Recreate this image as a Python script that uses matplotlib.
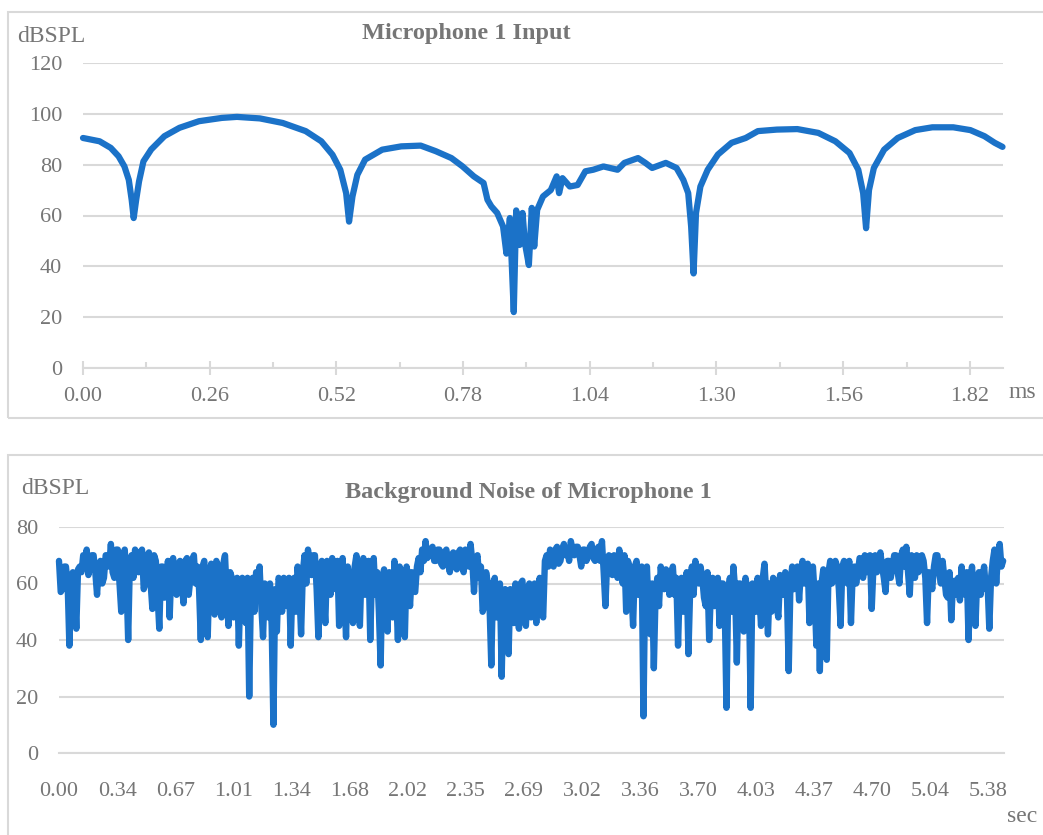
import numpy as np
import matplotlib
matplotlib.use("Agg")
import matplotlib.pyplot as plt
from matplotlib.patches import Rectangle

# =========================
# 1. DATA
# =========================
# Microphone 1 input, time in ms, level in dBSPL
mic_ms = [0.000, 0.034, 0.057, 0.073, 0.085, 0.094, 0.100, 0.104, 0.109, 0.115,
          0.124, 0.140, 0.167, 0.198, 0.238, 0.285, 0.316, 0.363, 0.410, 0.457,
          0.489, 0.512, 0.528, 0.540, 0.546, 0.553, 0.563, 0.579, 0.614, 0.653,
          0.693, 0.724, 0.756, 0.779, 0.802, 0.822, 0.830, 0.838, 0.850, 0.862,
          0.869, 0.876, 0.884, 0.889, 0.896, 0.902, 0.907, 0.915, 0.921, 0.926,
          0.932, 0.944, 0.960, 0.972, 0.977, 0.984, 0.999, 1.015, 1.031, 1.047,
          1.068, 1.097, 1.111, 1.139, 1.154, 1.168, 1.196, 1.218, 1.232, 1.242,
          1.248, 1.253, 1.258, 1.267, 1.282, 1.303, 1.331, 1.360, 1.385, 1.424,
          1.466, 1.509, 1.544, 1.573, 1.591, 1.601, 1.607, 1.613, 1.623, 1.644,
          1.672, 1.708, 1.743, 1.786, 1.821, 1.850, 1.871, 1.887]
mic_db = [90.5, 89.2, 86.6, 83.3, 79.3, 74.0, 66.0, 59.0, 66.0, 73.4,
          81.3, 86.0, 91.2, 94.5, 97.1, 98.4, 98.8, 98.2, 96.4, 93.2,
          89.2, 83.9, 78.0, 68.8, 57.6, 67.5, 76.0, 82.0, 85.9, 87.2,
          87.5, 85.3, 82.6, 79.3, 75.4, 72.8, 66.2, 63.6, 61.0, 55.7,
          45.0, 59.0, 22.0, 62.0, 48.4, 61.0, 49.0, 40.5, 63.0, 47.8,
          62.2, 67.5, 70.0, 75.4, 68.8, 74.7, 71.4, 72.0, 77.4, 78.0,
          79.3, 78.0, 80.7, 82.6, 80.7, 78.7, 80.7, 78.7, 74.0, 68.8,
          55.7, 37.2, 61.0, 71.4, 78.0, 84.0, 88.6, 90.5, 93.2, 93.8,
          94.0, 92.5, 89.2, 84.6, 78.0, 68.8, 55.0, 70.0, 78.7, 85.9,
          90.5, 93.6, 94.7, 94.7, 93.6, 91.2, 88.6, 87.0]
mic_ticks = ["0.00", "0.26", "0.52", "0.78", "1.04", "1.30", "1.56", "1.82"]

# Background noise, one sample every 0.01 s, level in dBSPL
noise_dt = 0.01
noise_db = [
    68, 57, 58, 66, 66, 60, 38, 62, 64, 58, 44, 65, 66, 64, 70, 66, 72, 63, 66, 70,   # 0.00
    70, 64, 56, 66, 68, 60, 62, 70, 70, 66, 74, 64, 62, 72, 72, 60, 50, 70, 72, 62,   # 0.20
    40, 68, 70, 62, 72, 66, 64, 71, 72, 58, 60, 70, 71, 60, 51, 70, 68, 56, 44, 66,   # 0.40
    66, 55, 58, 68, 48, 66, 69, 58, 56, 67, 68, 60, 53, 68, 69, 56, 62, 68, 70, 60,   # 0.60
    66, 58, 40, 66, 68, 52, 41, 64, 67, 56, 49, 68, 66, 58, 48, 67, 70, 56, 45, 64,   # 0.80
    62, 48, 55, 62, 38, 60, 62, 50, 46, 62, 20, 58, 62, 50, 64, 56, 66, 52, 41, 60,   # 1.00
    58, 48, 60, 45, 10, 58, 43, 62, 60, 50, 62, 56, 52, 62, 38, 60, 62, 50, 66, 58,   # 1.20
    42, 64, 70, 60, 72, 66, 63, 70, 70, 58, 41, 66, 68, 56, 46, 68, 64, 56, 69, 60,   # 1.40
    58, 68, 45, 62, 69, 56, 41, 66, 62, 58, 46, 66, 70, 58, 45, 66, 69, 56, 58, 68,   # 1.60
    40, 64, 69, 56, 64, 50, 31, 62, 65, 56, 43, 64, 62, 48, 68, 56, 40, 66, 62, 50,   # 1.80
    41, 66, 62, 52, 64, 58, 57, 66, 69, 64, 72, 68, 75, 69, 70, 72, 73, 68, 68, 72,   # 2.00
    72, 67, 66, 71, 72, 68, 64, 70, 71, 66, 65, 71, 72, 66, 64, 72, 70, 66, 74, 68,   # 2.20
    57, 68, 70, 62, 66, 50, 52, 64, 60, 52, 31, 60, 62, 48, 55, 60, 27, 56, 58, 48,   # 2.40
    35, 58, 56, 46, 60, 50, 44, 60, 61, 50, 45, 58, 60, 48, 52, 60, 46, 58, 62, 50,   # 2.60
    48, 68, 70, 66, 72, 70, 66, 72, 73, 67, 68, 72, 74, 70, 72, 68, 75, 72, 70, 73,   # 2.80
    73, 70, 66, 72, 72, 68, 70, 73, 74, 69, 68, 72, 73, 68, 75, 64, 52, 68, 70, 64,   # 3.00
    63, 70, 68, 62, 72, 64, 60, 70, 50, 68, 66, 58, 45, 66, 68, 56, 62, 66, 13, 62,   # 3.20
    66, 50, 42, 60, 30, 56, 62, 52, 66, 60, 58, 65, 64, 56, 62, 66, 56, 62, 38, 60,   # 3.40
    62, 50, 55, 64, 35, 58, 66, 56, 68, 62, 60, 66, 62, 55, 52, 64, 40, 58, 62, 52,   # 3.60
    58, 62, 45, 60, 60, 52, 16, 58, 62, 50, 66, 58, 32, 60, 60, 50, 43, 62, 58, 56,   # 3.80
    16, 60, 58, 50, 62, 56, 45, 62, 67, 56, 42, 60, 50, 62, 61, 52, 48, 63, 62, 56,   # 4.00
    64, 56, 29, 60, 66, 58, 62, 66, 54, 64, 68, 60, 62, 67, 46, 62, 66, 56, 38, 60,   # 4.20
    29, 60, 65, 56, 33, 64, 68, 60, 62, 68, 66, 58, 45, 66, 68, 62, 60, 68, 46, 64,   # 4.40
    66, 60, 64, 69, 68, 62, 70, 64, 66, 70, 51, 66, 70, 64, 68, 71, 66, 62, 57, 68,   # 4.60
    68, 62, 66, 70, 70, 64, 60, 70, 72, 66, 73, 64, 56, 70, 68, 62, 70, 64, 66, 70,   # 4.80
    68, 62, 46, 64, 62, 58, 66, 70, 70, 64, 60, 68, 62, 56, 55, 64, 47, 60, 61, 56,   # 5.00
    62, 54, 66, 58, 56, 64, 40, 60, 66, 56, 45, 62, 64, 56, 62, 66, 58, 60, 44, 62,   # 5.20
    68, 72, 60, 70, 74, 66, 68,                                                       # 5.40
]
noise_ticks = ["0.00", "0.34", "0.67", "1.01", "1.34", "1.68", "2.02", "2.35", "2.69",
               "3.02", "3.36", "3.70", "4.03", "4.37", "4.70", "5.04", "5.38"]

# =========================
# 2. STYLE
# =========================
W, H = 1043, 835
LINE = "#1B72C8"
GRID = "#D9D9D9"
TXT = "#767676"
plt.rcParams["font.family"] = ["Liberation Serif", "DejaVu Serif"]

fig = plt.figure(figsize=(W / 100, H / 100), dpi=100)


def fx(px):
    return px / W


def fy(py):
    return 1 - py / H


# panel borders (Excel chart areas)
fig.patches.append(Rectangle((fx(7.5), fy(418)), 1.0, fy(11.5) - fy(418), transform=fig.transFigure,
                             fill=False, edgecolor=GRID, linewidth=1.5))
fig.patches.append(Rectangle((fx(7.5), -0.05), 1.0, fy(455) + 0.05, transform=fig.transFigure,
                             fill=False, edgecolor=GRID, linewidth=1.5))


def style_axes(ax):
    ax.grid(axis="y", color=GRID, linewidth=1.5)
    ax.set_axisbelow(True)
    for s in ["top", "right", "left"]:
        ax.spines[s].set_visible(False)
    ax.spines["bottom"].set_color(GRID)
    ax.spines["bottom"].set_linewidth(1.5)
    ax.tick_params(axis="y", length=0, pad=15, labelsize=16, labelcolor=TXT)


# =========================
# 3. TOP: MICROPHONE 1 INPUT
# =========================
ax1 = fig.add_axes([fx(83), fy(368), fx(1003) - fx(83), fy(63) - fy(368)])
style_axes(ax1)
ax1.plot(mic_ms, mic_db, color=LINE, linewidth=4.5, solid_joinstyle="round",
         solid_capstyle="round", clip_on=False)
ax1.set_ylim(0, 120)
ax1.set_yticks([0, 20, 40, 60, 80, 100, 120])
ax1.set_xlim(0, 1.888)
ax1.set_xticks([0.26 * i for i in range(len(mic_ticks))])
ax1.set_xticklabels(mic_ticks)
ax1.set_xticks([0.13 + 0.26 * i for i in range(7)], minor=True)
ax1.tick_params(axis="x", which="major", direction="inout", length=9.5, width=1.5,
                color=GRID, pad=9, labelsize=16, labelcolor=TXT)
ax1.tick_params(axis="x", which="minor", direction="in", length=4.5, width=1.5, color=GRID)
fig.text(fx(17), fy(37), "dBSPL", fontsize=17, color=TXT, ha="left", va="center")
fig.text(fx(466), fy(33), "Microphone 1 Input", fontsize=17.5, fontweight="bold",
         color=TXT, ha="center", va="center")
fig.text(fx(1022), fy(392), "ms", fontsize=17, color=TXT, ha="center", va="center")

# =========================
# 4. BOTTOM: BACKGROUND NOISE
# =========================
noise_t = np.arange(len(noise_db)) * noise_dt
ax2 = fig.add_axes([fx(59), fy(753), fx(1004) - fx(59), fy(527) - fy(753)])
style_axes(ax2)
ax2.plot(noise_t, noise_db, color=LINE, linewidth=4.6, solid_joinstyle="round",
         solid_capstyle="round", clip_on=False)
ax2.set_ylim(0, 80)
ax2.set_yticks([0, 20, 40, 60, 80])
ax2.set_xlim(0, 5.465)
ax2.set_xticks([0.336 * i for i in range(len(noise_ticks))])
ax2.set_xticklabels(noise_ticks)
ax2.tick_params(axis="x", length=0, pad=21, labelsize=16, labelcolor=TXT)
fig.text(fx(21), fy(488), "dBSPL", fontsize=17, color=TXT, ha="left", va="center")
fig.text(fx(528), fy(493), "Background Noise of Microphone 1", fontsize=17.5,
         fontweight="bold", color=TXT, ha="center", va="center")
fig.text(fx(1022), fy(817), "sec", fontsize=17, color=TXT, ha="center", va="center")

fig.savefig("out.png", dpi=100)
